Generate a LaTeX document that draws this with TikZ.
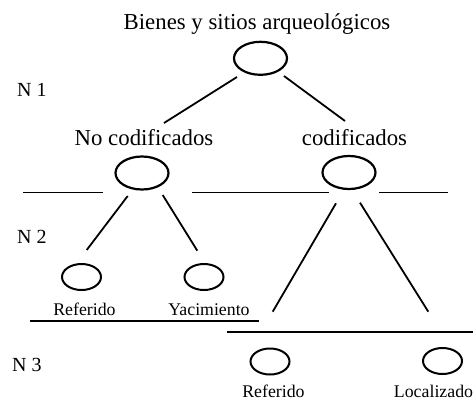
\documentclass[tikz,border=0pt]{standalone}
\usepackage{fontspec}
\setmainfont{Liberation Serif}
\usetikzlibrary{shapes.geometric}
\tikzset{
  bigoval/.style={draw, ellipse, line width=2.2pt, minimum width=53pt, minimum height=33pt, inner sep=0pt},
  smalloval/.style={draw, ellipse, line width=2pt, minimum width=39pt, minimum height=26pt, inner sep=0pt},
  bigtext/.style={anchor=base, inner sep=0pt, font=\fontsize{22.8}{26}\selectfont},
  smalltext/.style={anchor=base, inner sep=0pt, font=\fontsize{17.8}{21}\selectfont},
  leveltext/.style={anchor=base west, inner sep=0pt, font=\fontsize{20}{24}\selectfont},
  link/.style={line width=1.8pt},
  rule/.style={line width=1.1pt}
}
\begin{document}
\begin{tikzpicture}[x=1pt, y=-1pt]
\useasboundingbox (0,0) rectangle (474,400);
% texts
\node[bigtext] (title) at (257,29) {Bienes y sitios arqueológicos};
\node[bigtext] (nocod) at (144,145.7) {No codificados};
\node[bigtext] (cod) at (354.5,145.7) {codificados};
\node[smalltext] (ref1) at (84.5,315) {Referido};
\node[smalltext] (yac) at (209,315) {Yacimiento};
\node[smalltext] (ref2) at (273.5,397) {Referido};
\node[smalltext] (loc) at (433.5,397) {Localizado};
\node[leveltext] (n1) at (17,96) {N 1};
\node[leveltext] (n2) at (17,243) {N 2};
\node[leveltext] (n3) at (12,371) {N 3};
% ovals
\node[bigoval] (e0) at (260.5,58.3) {};
\node[bigoval] (e1) at (142,173) {};
\node[bigoval] (e2) at (349,172.5) {};
\node[smalloval] (e11) at (81.5,277) {};
\node[smalloval] (e12) at (204,277) {};
\node[smalloval] (e21) at (270,361.5) {};
\node[smalloval] (e22) at (442.5,361) {};
% connector ends
\coordinate (a0) at (237,77);
\coordinate (a1) at (164,123);
\coordinate (b0) at (284,76);
\coordinate (b1) at (345,121);
\coordinate (c0) at (127.7,196);
\coordinate (c1) at (86.7,250);
\coordinate (d0) at (162.7,195);
\coordinate (d1) at (197.3,250.7);
\coordinate (f0) at (336,203.3);
\coordinate (f1) at (272.7,311.7);
\coordinate (g0) at (360,202.7);
\coordinate (g1) at (428.3,311.7);
\draw[link] (a0) -- (a1);
\draw[link] (b0) -- (b1);
\draw[link] (c0) -- (c1);
\draw[link] (d0) -- (d1);
\draw[link] (f0) -- (f1);
\draw[link] (g0) -- (g1);
% rules
\draw[rule] (23,192.3) -- (103,192.3);
\draw[rule] (192,192.3) -- (329,192.3);
\draw[rule] (379,192.3) -- (448,192.3);
\draw[rule] (30,321) -- (259,321);
\draw[rule] (227,332) -- (473,332);
\end{tikzpicture}
\end{document}
